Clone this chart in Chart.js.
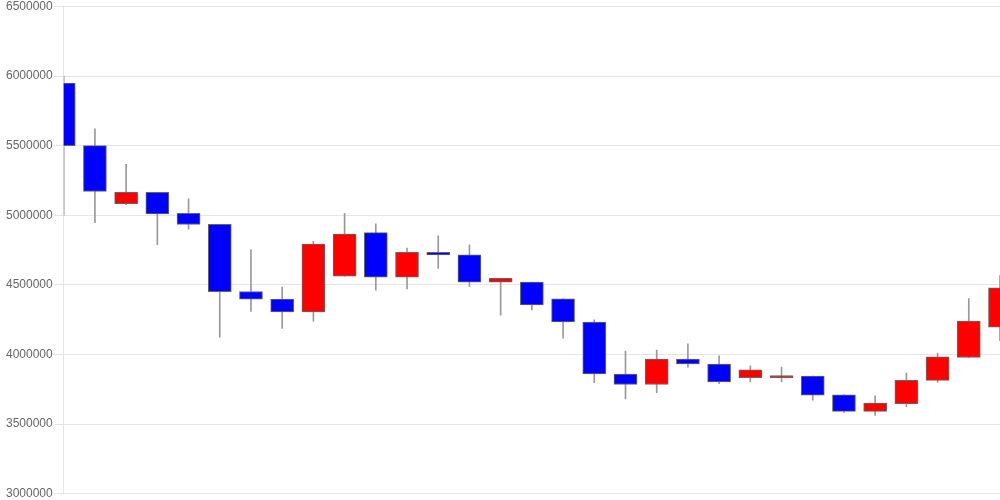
<!DOCTYPE html>
<html>
<head>
<meta charset="utf-8">
<script src="https://cdn.jsdelivr.net/npm/chart.js@4"></script>
<style>
  html, body { margin: 0; padding: 0; background: #fff; }
  #wrap { width: 1000px; height: 500px; }
</style>
</head>
<body>
<div id="wrap"><canvas id="myChart"></canvas></div>
<script>
// DATA

const categories = ['1', '2', '3', '4', '5', '6', '7', '8', '9', '10', '11', '12', '13', '14', '15', '16',
  '17', '18', '19', '20', '21', '22', '23', '24', '25', '26', '27', '28', '29', '30', '31'];

const openValues = [5950000, 5500000, 5083000, 5165000, 5014000, 4935000, 4452000, 4397000, 4306000, 4562000,
  4875000, 4555000, 4734000, 4715000, 4519000, 4519000, 4399000, 4232000, 3859000, 3784000, 3966000,
  3931000, 3832000, 3832000, 3845000, 3710000, 3591000, 3646000, 3813000, 3978000, 4196000];

const closeValues = [5500000, 5170000, 5165000, 5009000, 4933000, 4450000, 4397000, 4306000, 4792000, 4864000,
  4555000, 4734000, 4715000, 4519000, 4547000, 4356000, 4234000, 3859000, 3784000, 3966000, 3931000,
  3802000, 3890000, 3847000, 3708000, 3591000, 3651000, 3813000, 3983000, 4239000, 4478000];

const highValues = [6000000, 5620000, 5366000, 5165000, 5117000, 4935000, 4751000, 4483000, 4813000, 5014000,
  4938000, 4763000, 4851000, 4787000, 4547000, 4519000, 4399000, 4249000, 4024000, 4031000, 4076000,
  3990000, 3918000, 3909000, 3845000, 3710000, 3703000, 3866000, 4010000, 4401000, 4567000];

const lowValues = [5000000, 4947000, 5076000, 4789000, 4900000, 4124000, 4308000, 4186000, 4239000, 4562000,
  4462000, 4471000, 4617000, 4488000, 4282000, 4320000, 4117000, 3797000, 3680000, 3725000, 3909000,
  3789000, 3802000, 3802000, 3672000, 3583000, 3562000, 3624000, 3799000, 3978000, 4098000];

const yTicks = [3000000, 3500000, 4000000, 4500000, 5000000, 5500000, 6000000, 6500000];

// CANDLES

const bodies = categories.map(function (c, i) {
  return [openValues[i], closeValues[i]];
});
const wicks = categories.map(function (c, i) {
  return [lowValues[i], highValues[i]];
});
const bodyColors = categories.map(function (c, i) {
  return closeValues[i] >= openValues[i] ? '#ff0000' : '#0000ff';
});

var ctx = document.getElementById('myChart').getContext('2d');

var chart = new Chart(ctx, {
  type: 'bar',
  data: {
    labels: categories,
    datasets: [
      {
        label: 'body',
        data: bodies,
        backgroundColor: bodyColors,
        borderColor: '#666',
        borderWidth: 1,
        borderSkipped: false,
        barThickness: 23,
        grouped: false,
        clip: 0,
      },
      {
        label: 'wick',
        data: wicks,
        backgroundColor: '#999',
        borderWidth: 0,
        barThickness: 1,
        grouped: false,
        clip: 0,
      },
    ],
  },
  options: {
    responsive: true,
    maintainAspectRatio: false,
    animation: false,
    layout: { padding: { left: 5 } },
    plugins: {
      legend: { display: false },
      tooltip: { enabled: false },
    },
    scales: {
      x: {
        display: false,
        offset: false,
      },
      y: {
        min: yTicks[0],
        max: yTicks[yTicks.length - 1],
        afterBuildTicks: function (axis) {
          axis.ticks = yTicks.map(function (v) { return { value: v }; });
        },
        grid: { color: 'rgba(0,0,0,0.1)', tickLength: 10 },
        border: { color: 'rgba(0,0,0,0.1)' },
        ticks: {
          color: '#666',
          padding: 1,
          font: { family: "'Liberation Sans', Arial, sans-serif", size: 12, lineHeight: 0.9 },
          callback: function (value) {
            return String(value);
          },
        },
      },
    },
  },
});
</script>
</body>
</html>
